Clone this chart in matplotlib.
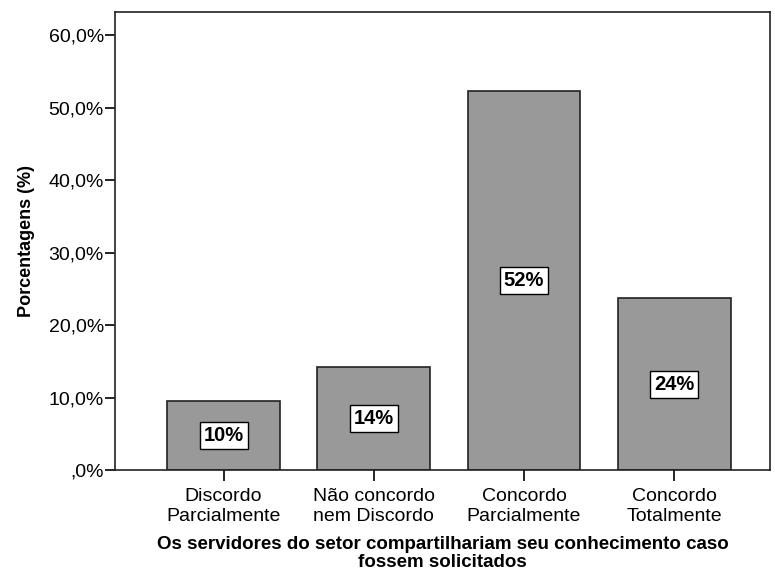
import numpy as np
import matplotlib.pyplot as plt
from matplotlib.ticker import FuncFormatter

plt.rcParams['font.family'] = ['Liberation Sans', 'DejaVu Sans']

categorias = ['Discordo\nParcialmente', 'Não concordo\nnem Discordo',
              'Concordo\nParcialmente', 'Concordo\nTotalmente']
porcentagens = [9.5, 14.2, 52.3, 23.7]
rotulos = ['10%', '14%', '52%', '24%']

fig = plt.figure(figsize=(7.75, 5.71), dpi=100)
ax = fig.add_axes([0.1484, 0.1769, 0.845, 0.8021])

x = np.arange(len(categorias))
barras = ax.bar(x, porcentagens, width=0.75, color='#999999',
                edgecolor='#222222', linewidth=1.2)

for xi, v, r in zip(x, porcentagens, rotulos):
    ax.text(xi, v / 2, r, ha='center', va='center', fontsize=14.5,
            fontweight='bold',
            bbox=dict(boxstyle='square,pad=0.2', facecolor='white',
                      edgecolor='black', linewidth=1))

ax.set_xlim(-0.723, 3.637)
ax.set_ylim(0, 63.2)
ax.set_yticks(np.arange(0, 61, 10))
ax.yaxis.set_major_formatter(FuncFormatter(
    lambda v, p: ',0%' if v == 0 else f'{v:.1f}%'.replace('.', ',')))
ax.set_xticks(x)
ax.set_xticklabels(categorias, fontsize=14)
for t in ax.get_xticklabels():
    t.set_linespacing(1.2)
ax.tick_params(axis='y', labelsize=14, length=7, width=1.2, pad=1)
ax.tick_params(axis='x', length=8, width=1.2, pad=5)

for s in ax.spines.values():
    s.set_linewidth(1.2)
    s.set_color('#222222')

ax.set_ylabel('Porcentagens (%)', fontsize=13, fontweight='bold', labelpad=10)
xl = ax.set_xlabel('Os servidores do setor compartilhariam seu conhecimento caso\nfossem solicitados',
                   fontsize=13.5, fontweight='bold', labelpad=8)
xl.set_linespacing(1.1)

fig.savefig('out.png', dpi=100)
